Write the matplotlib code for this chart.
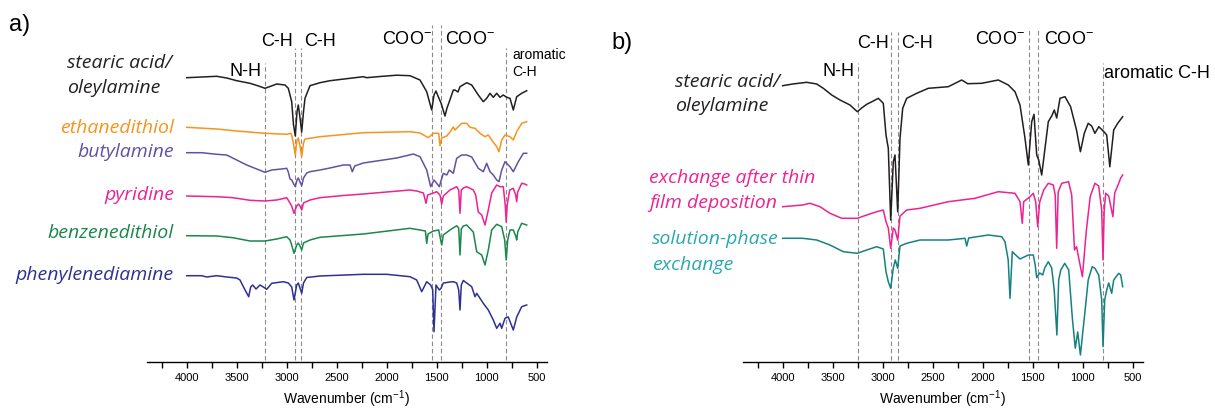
import matplotlib.pyplot as plt

plt.rcParams['font.family'] = ['Liberation Sans', 'DejaVu Sans']
plt.rcParams['mathtext.default'] = 'regular'

W, H = 1215, 409

# ---- panel a) : (wavenumber cm-1, relative transmittance a.u.) ----
stearic_a = [(4000, 0), (3700, 1.4), (3600, -0.3), (3500, -3), (3367, -5.6), (3267, -8.8),
             (3217, -10.6), (3167, -8.8), (3100, -6.3), (3017, -7.3), (2984, -10.6), (2950, -24),
             (2932, -47), (2914, -58.3), (2897, -34), (2884, -27.3), (2867, -40), (2850, -54.3),
             (2832, -34), (2817, -20.6), (2767, -8), (2667, -5), (2567, -3), (2234, 1), (2200, 0),
             (2067, 1.2), (1900, 2.5), (1767, 2), (1667, -2.3), (1600, -14), (1572, -24.3),
             (1550, -32.3), (1527, -17.3), (1507, -13.3), (1484, -19), (1457, -25.3), (1417, -38.3),
             (1397, -30.3), (1374, -24), (1334, -12.3), (1317, -12.3), (1287, -14.3), (1267, -9),
             (1200, -5), (1150, -7.3), (1084, -17.3), (1034, -24), (1000, -20.6), (967, -15.6),
             (934, -19.6), (900, -15.6), (867, -19.6), (834, -17.3), (800, -19.6), (767, -20.6),
             (734, -32.3), (700, -19), (650, -15.6), (600, -13)]
ethanedithiol = [(4000, 0), (3700, -1.7), (3500, -3.7), (3217, -6), (3000, -7), (2960, -6),
                 (2950, -7.7), (2930, -17.7), (2914, -27.7), (2897, -12.7), (2884, -10.7),
                 (2867, -18.7), (2850, -29.4), (2832, -15.7), (2817, -11.7), (2767, -11),
                 (2667, -9.4), (2234, -5.4), (1767, -4.4), (1667, -5.7), (1583, -10.4), (1533, -6),
                 (1480, -6), (1467, -18.4), (1450, -10.7), (1400, -8.7), (1367, -4.7), (1334, 0.3),
                 (1317, -2.7), (1250, 4), (1200, 4), (1167, 0), (1117, -1), (1067, -6), (1017, -9.4),
                 (984, -7.7), (950, -12.7), (900, -19.4), (877, -24.4), (850, -12.7), (817, -7.7),
                 (767, -9.4), (734, -12.7), (700, -4.4), (650, 4), (600, 5.6)]
butylamine = [(4000, 0), (3850, 0), (3700, -1.6), (3600, -2.3), (3500, -7.3), (3400, -12.3),
              (3300, -16.3), (3217, -19.6), (3150, -17.3), (3050, -16.3), (3000, -15.6),
              (2984, -19.3), (2967, -26.3), (2950, -27.3), (2930, -31.3), (2914, -34), (2897, -27.3),
              (2884, -25.3), (2867, -29.3), (2850, -33), (2832, -25.3), (2800, -20.3), (2767, -19),
              (2667, -17.3), (2567, -15.3), (2434, -12.3), (2367, -12.3), (2344, -19), (2320, -13.3),
              (2234, -10.3), (2067, -7.8), (1900, -5.3), (1734, -1.3), (1667, -4), (1600, -17.3),
              (1560, -34), (1527, -27.3), (1500, -30.6), (1474, -34), (1434, -20.6), (1400, -22.3),
              (1374, -17.3), (1334, -20.6), (1300, -5.6), (1250, -2.3), (1200, -2.3), (1150, -4.3),
              (1084, -15.6), (1034, -19), (1000, -10.6), (967, -19), (934, -22.3), (900, -27.3),
              (877, -29), (850, -17.3), (817, -9), (767, -14), (734, -19), (684, -9), (634, -0.6),
              (600, -0.6)]
pyridine = [(4000, 0), (3700, -0.7), (3537, -1.7), (3367, -4.3), (3217, -5), (3100, -4),
            (3000, -1.7), (2967, -7), (2950, -10), (2927, -17.3), (2900, -10), (2884, -8),
            (2867, -10), (2850, -14), (2832, -7), (2767, -4), (2667, -1.7), (2434, 0.5), (2234, 2),
            (1767, 6), (1700, 5), (1633, 3), (1607, -7.3), (1590, 1), (1533, 3), (1500, 4.3),
            (1467, 1), (1450, -8.3), (1434, 0), (1367, 6), (1300, 9.3), (1280, 6), (1267, -17.3),
            (1254, 6), (1234, 8), (1200, 9.3), (1167, 7.7), (1134, 6), (1110, 1), (1084, -16),
            (1050, -19), (1017, -29), (984, -14), (950, 3), (900, 11), (867, 9.3), (834, 9.3),
            (815, -9), (805, -26), (795, -9), (770, 6), (734, 7.7), (710, 1), (700, -5.7), (690, 4),
            (650, 12.7), (620, 12), (600, 11)]
benzenedithiol = [(4000, 0), (3700, -0.3), (3537, -2), (3367, -5.3), (3217, -5.3), (3100, -3.3),
                  (3000, -1), (2967, -4.3), (2950, -9.3), (2927, -17.6), (2900, -9.3), (2884, -7.3),
                  (2867, -10.3), (2850, -14.3), (2832, -7.3), (2767, -4.3), (2667, -1.6),
                  (2234, 1.7), (1767, 7.4), (1667, 5.7), (1613, 4.7), (1600, -7.6), (1587, 1.7),
                  (1533, 4.7), (1480, 5.7), (1450, -9.3), (1434, 0.7), (1367, 5.7), (1300, 10),
                  (1280, 7.7), (1267, -19.3), (1254, 6.7), (1234, 9.7), (1200, 10.7), (1134, 3.7),
                  (1100, -16), (1050, -19.3), (1017, -29.3), (984, -14.3), (950, 5.7), (900, 11.4),
                  (850, 9), (820, -4.3), (805, -24.3), (790, -4.3), (767, 5.7), (734, 5.7),
                  (710, -0.3), (700, -4.3), (690, 3.7), (650, 12.4), (600, 10.7)]
phenylenediamine = [(4000, 0), (3850, 0), (3800, -1.3), (3700, 0), (3600, -1.3), (3500, -2.3),
                    (3467, -4.3), (3427, -12.3), (3400, -17.3), (3380, -21), (3360, -11.3),
                    (3340, -9.3), (3307, -13.3), (3267, -9.3), (3234, -11.3), (3200, -13.6),
                    (3150, -7.6), (3034, -6), (2984, -7.3), (2950, -11.3), (2927, -24.3),
                    (2900, -9.3), (2884, -7.3), (2867, -12.3), (2850, -17.6), (2832, -7.3),
                    (2800, -1.8), (2667, -0.3), (2234, 1.4), (2000, 1.4), (1767, -1), (1700, -4.3),
                    (1650, -16), (1600, -6), (1560, -9.3), (1540, -14), (1527, -56), (1507, -9.3),
                    (1474, -14.3), (1457, -12.6), (1434, -7.3), (1367, -6.3), (1334, -6),
                    (1300, -7.3), (1280, -14.3), (1267, -34.3), (1254, -9.3), (1234, -4.8),
                    (1200, -7.3), (1150, -11), (1117, -21), (1100, -17.6), (1034, -27.6),
                    (984, -34.3), (934, -44.3), (900, -52.6), (867, -47.6), (850, -52.6),
                    (817, -42.6), (784, -41.3), (734, -54.3), (700, -41.3), (650, -31), (600, -29.3)]

# ---- panel b) ----
stearic_b = [(4000, 0), (3900, 1.7), (3760, 3.4), (3660, 1.7), (3594, -2.6), (3510, -9.3),
             (3427, -14.3), (3327, -19.3), (3254, -26), (3210, -22.3), (3160, -18.6), (3094, -15.3),
             (3044, -12.6), (2994, -17.6), (2967, -49.3), (2944, -62.6), (2920, -134.3),
             (2894, -76), (2877, -69.3), (2850, -126), (2827, -52.6), (2800, -22.6), (2760, -12.6),
             (2660, -7.6), (2544, -2.6), (2344, -1), (2210, 5.7), (2150, 2), (2010, 2.4),
             (1844, 5.7), (1744, 0.7), (1677, -6), (1627, -19.3), (1577, -52.6), (1544, -79.3),
             (1510, -36), (1487, -28.6), (1460, -69.3), (1440, -74.3), (1410, -89.3), (1377, -62.6),
             (1344, -36), (1310, -30.3), (1284, -24.3), (1260, -32.3), (1227, -12.6), (1177, -11),
             (1121, -21), (1062, -44.3), (1023, -66), (984, -47.6), (945, -37.6), (910, -40.3),
             (878, -47.6), (839, -41), (788, -46), (760, -49.3), (729, -81), (690, -44.3),
             (650, -37.6), (600, -31)]
thin_film = [(4000, 0), (3800, 1.7), (3727, 3.4), (3627, 0), (3527, -6.6), (3410, -11.6),
             (3254, -11.6), (3160, -8.3), (3060, -5), (2994, -3.3), (2967, -15), (2944, -21.3),
             (2920, -41.6), (2894, -21.3), (2877, -23.3), (2850, -33.3), (2827, -9.3), (2760, -3.3),
             (2627, -1.6), (2344, 5), (2077, 8.4), (1844, 15), (1677, 13.4), (1627, 5), (1604, -16.6),
             (1590, 5), (1527, 10), (1494, 13.4), (1470, 5), (1450, -20), (1430, 4.7), (1390, 16.7),
             (1344, 23.4), (1294, 21.7), (1275, 11.7), (1260, -41.6), (1245, 14.7), (1210, 23.4),
             (1141, 25), (1110, 11.7), (1082, -43.3), (1062, -40), (1040, -51.3), (1003, -70),
             (963, -23.3), (925, 10), (878, 23.4), (840, 20.7), (810, -3.3), (797, -53.3),
             (785, -3.3), (770, 13.4), (740, 10.7), (698, -10), (680, 13.7), (640, 23.4),
             (620, 28.7), (600, 31.7)]
solution_phase = [(4000, 0), (3800, 0), (3660, -1.7), (3527, -6.7), (3394, -13.4), (3254, -15),
                  (3160, -11.7), (3060, -8.4), (2994, -10.7), (2967, -33.4), (2944, -43.4),
                  (2920, -50), (2894, -29.7), (2874, -21.7), (2850, -30), (2827, -7.7),
                  (2760, -5), (2627, -1.7), (2344, -1.7), (2177, 0), (2160, -7.7), (2140, 0.3),
                  (1944, 3.3), (1810, 1.6), (1777, -3.4), (1745, -21.7), (1727, -60), (1704, -13.4),
                  (1670, -16.7), (1627, -20.7), (1544, -16.7), (1494, -16.7), (1475, -26.7),
                  (1460, -39.4), (1430, -34.7), (1400, -36.7), (1380, -29.7), (1344, -23.4),
                  (1310, -29.7), (1285, -51.7), (1258, -96.7), (1240, -41.7), (1219, -31.7),
                  (1180, -25), (1140, -31.7), (1102, -81.7), (1074, -110), (1050, -93.7),
                  (1023, -116.7), (984, -79.7), (945, -41.7), (905, -28.4), (878, -30), (840, -36.7),
                  (810, -61.7), (797, -108.4), (780, -61.7), (760, -51.7), (740, -44.7),
                  (710, -55), (690, -41.7), (640, -35), (620, -36.7), (600, -48.4)]

traces_a = [stearic_a, ethanedithiol, butylamine, pyridine, benzenedithiol, phenylenediamine]
offsets_a = [284.3, 234.7, 209.3, 166, 126.3, 86.3]
colors_a = ['#231f20', '#f7941d', '#6450a5', '#ec2390', '#19884a', '#2e3192']
traces_b = [stearic_b, thin_film, solution_phase]
offsets_b = [276.3, 155.3, 123.7]
colors_b = ['#231f20', '#ec2390', '#16827f']

# band positions (cm-1) and height of the dashed marker lines
bands_a = [3217, 2920, 2855, 1550, 1460, 805]
tops_a = [299, 314, 314, 337, 337, 314]
bands_b = [3250, 2920, 2850, 1540, 1450, 797]
tops_b = [299, 330, 330, 334, 334, 299]

fig = plt.figure(figsize=(W / 100, H / 100), dpi=100)


def setup(ax):
    ax.set_xlim(4400, 400)
    ax.set_ylim(0, 362)
    for s in ['top', 'left', 'right']:
        ax.spines[s].set_visible(False)
    ax.spines['bottom'].set_linewidth(1.0)
    ax.set_yticks([])
    ax.set_xticks(range(4000, 499, -500))
    ax.set_xticks(range(4250, 400, -500), minor=True)
    ax.tick_params(axis='x', which='both', length=4, width=1.0, labelsize=8, pad=4)
    ax.set_xlabel('Wavenumber (cm$^{-1}$)', fontsize=10, labelpad=4)
    ax.patch.set_alpha(0)


axa = fig.add_axes([146.7 / W, 1 - 362 / H, 400 / W, 362 / H])
axb = fig.add_axes([742.7 / W, 1 - 362 / H, 400 / W, 362 / H])
for ax, traces, offs, cols, bands, tops in [(axa, traces_a, offsets_a, colors_a, bands_a, tops_a),
                                             (axb, traces_b, offsets_b, colors_b, bands_b, tops_b)]:
    setup(ax)
    ax.vlines(bands, 2, tops, colors='#8a8a8a', linewidth=0.8, linestyles=(0, (4, 2.5)), zorder=1)
    for tr, off, c in zip(traces, offs, cols):
        wn = [p[0] for p in tr]
        t = [p[1] + off for p in tr]
        ax.plot(wn, t, color=c, lw=1.1, zorder=2)


def txt(x, y, s, **kw):
    fig.text(x / W, 1 - y / H, s, va='center', **kw)


ital = dict(family='Open Sans', style='italic', fontsize=14)

# panel a) text
txt(9, 25, 'a)', fontsize=17)
txt(276.5, 42, 'C-H', ha='center', fontsize=13)
txt(320, 42, 'C-H', ha='center', fontsize=13)
txt(407, 40, 'COO$^{-}$', ha='center', fontsize=13)
txt(470, 40, 'COO$^{-}$', ha='center', fontsize=13)
txt(245.5, 72, 'N-H', ha='center', fontsize=13)
txt(512, 55, 'aromatic', fontsize=10)
txt(512, 72, 'C-H', fontsize=10)
txt(67, 63, 'stearic acid/', color=colors_a[0], **ital)
txt(67, 88, 'oleylamine', color=colors_a[0], **ital)
labels_a = ['ethanedithiol', 'butylamine', 'pyridine', 'benzenedithiol', 'phenylenediamine']
label_y_a = [128, 152, 195, 233, 275]
for s, y, c in zip(labels_a, label_y_a, colors_a[1:]):
    txt(174, y, s, ha='right', color=c, **ital)

# panel b) text
txt(611, 43, 'b)', fontsize=17)
txt(872.5, 44, 'C-H', ha='center', fontsize=13)
txt(917.5, 44, 'C-H', ha='center', fontsize=13)
txt(999.5, 40, 'COO$^{-}$', ha='center', fontsize=13)
txt(1068.5, 40, 'COO$^{-}$', ha='center', fontsize=13)
txt(839, 71, 'N-H', ha='center', fontsize=13)
txt(1104, 74, 'aromatic C-H', fontsize=13)
txt(675, 82, 'stearic acid/', color=colors_b[0], **ital)
txt(675, 106, 'oleylamine', color=colors_b[0], **ital)
txt(649, 178, 'exchange after thin', color=colors_b[1], **ital)
txt(649, 203, 'film deposition', color=colors_b[1], **ital)
txt(652, 239, 'solution-phase', color='#2aa9ad', **ital)
txt(652, 265, 'exchange', color='#2aa9ad', **ital)

fig.savefig('out.png', dpi=100)
